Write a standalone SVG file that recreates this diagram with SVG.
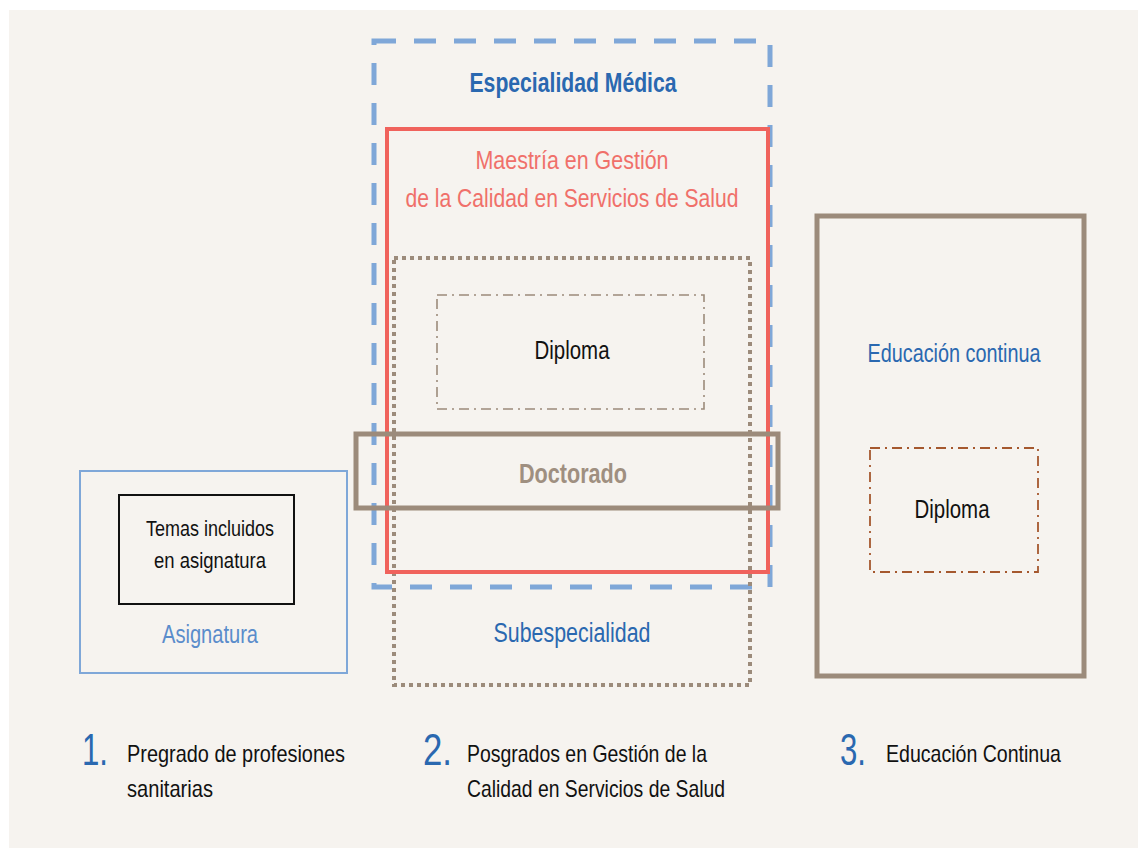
<svg xmlns="http://www.w3.org/2000/svg" width="1138" height="848" viewBox="0 0 1138 848">
<style>
text{font-family:"Liberation Sans",Arial,sans-serif;text-anchor:middle}
.blue{fill:#2a68b0}
.lblue{fill:#5a8ccb}
.red{fill:#f0706a}
.blk{fill:#111}
.brn{fill:#9f8f80}
.num{fill:#2a68b0;text-anchor:start}
.lab{fill:#111;text-anchor:start;font-size:24px}
</style>
<rect x="0" y="0" width="1138" height="848" fill="#ffffff"/>
<rect x="9" y="10" width="1129" height="838" fill="#f6f3ef"/>
<g id="especialidad">
<rect x="374" y="41" width="396" height="546" fill="none" stroke="#7fa7d8" stroke-width="5" stroke-dasharray="22 18"/>
<text class="blue" x="573" y="92" font-size="28" font-weight="bold" textLength="207" lengthAdjust="spacingAndGlyphs">Especialidad Médica</text>
</g>
<g id="subespecialidad">
<rect x="394" y="258" width="356" height="427" fill="none" stroke="#9c8b7b" stroke-width="4" stroke-dasharray="4 4"/>
<text class="blue" x="572" y="642" font-size="27" textLength="157" lengthAdjust="spacingAndGlyphs">Subespecialidad</text>
</g>
<g id="maestria">
<rect x="387" y="129" width="381" height="443" fill="none" stroke="#f0625c" stroke-width="4"/>
<text class="red" x="572" y="169" font-size="25" textLength="193" lengthAdjust="spacingAndGlyphs">Maestría en Gestión</text>
<text class="red" x="572" y="207" font-size="25" textLength="333" lengthAdjust="spacingAndGlyphs">de la Calidad en Servicios de Salud</text>
</g>
<g id="diploma1">
<rect x="437" y="295" width="267" height="114" fill="none" stroke="#9c8b7b" stroke-width="1.6" stroke-dasharray="10 5 2 5"/>
<text class="blk" x="572" y="359" font-size="25" textLength="75" lengthAdjust="spacingAndGlyphs">Diploma</text>
</g>
<g id="doctorado">
<rect x="356" y="434" width="422" height="74" fill="none" stroke="#9c8b7b" stroke-width="5"/>
<text class="brn" x="573" y="483" font-size="28" font-weight="bold" textLength="108" lengthAdjust="spacingAndGlyphs">Doctorado</text>
</g>
<g id="asignatura">
<rect x="80" y="471" width="267" height="202" fill="none" stroke="#7fa7d8" stroke-width="2"/>
<text class="lblue" x="210" y="643" font-size="26" textLength="96" lengthAdjust="spacingAndGlyphs">Asignatura</text>
</g>
<g id="temas">
<rect x="119" y="495" width="175" height="109" fill="none" stroke="#111" stroke-width="2"/>
<text class="blk" x="210" y="536" font-size="22" textLength="128" lengthAdjust="spacingAndGlyphs">Temas incluidos</text>
<text class="blk" x="210" y="568" font-size="22" textLength="112" lengthAdjust="spacingAndGlyphs">en asignatura</text>
</g>
<g id="educacion">
<rect x="817" y="216" width="267" height="460" fill="none" stroke="#9c8b7b" stroke-width="5"/>
<text class="blue" x="954" y="362" font-size="26" textLength="173" lengthAdjust="spacingAndGlyphs">Educación continua</text>
</g>
<g id="diploma2">
<rect x="870" y="448" width="168" height="124" fill="none" stroke="#a5582e" stroke-width="1.8" stroke-dasharray="10 5 2 5"/>
<text class="blk" x="952" y="518" font-size="25" textLength="75" lengthAdjust="spacingAndGlyphs">Diploma</text>
</g>
<g id="leyenda1">
<text class="num" x="82" y="765" font-size="44" textLength="26" lengthAdjust="spacingAndGlyphs">1.</text>
<text class="lab" x="127" y="762" textLength="218" lengthAdjust="spacingAndGlyphs">Pregrado de profesiones</text>
<text class="lab" x="127" y="797" textLength="86" lengthAdjust="spacingAndGlyphs">sanitarias</text>
</g>
<g id="leyenda2">
<text class="num" x="423" y="765" font-size="44" textLength="29" lengthAdjust="spacingAndGlyphs">2.</text>
<text class="lab" x="467" y="762" textLength="240" lengthAdjust="spacingAndGlyphs">Posgrados en Gestión de la</text>
<text class="lab" x="467" y="797" textLength="258" lengthAdjust="spacingAndGlyphs">Calidad en Servicios de Salud</text>
</g>
<g id="leyenda3">
<text class="num" x="840" y="765" font-size="44" textLength="26" lengthAdjust="spacingAndGlyphs">3.</text>
<text class="lab" x="886" y="762" textLength="175" lengthAdjust="spacingAndGlyphs">Educación Continua</text>
</g>
<g id="connectors"></g>
</svg>
